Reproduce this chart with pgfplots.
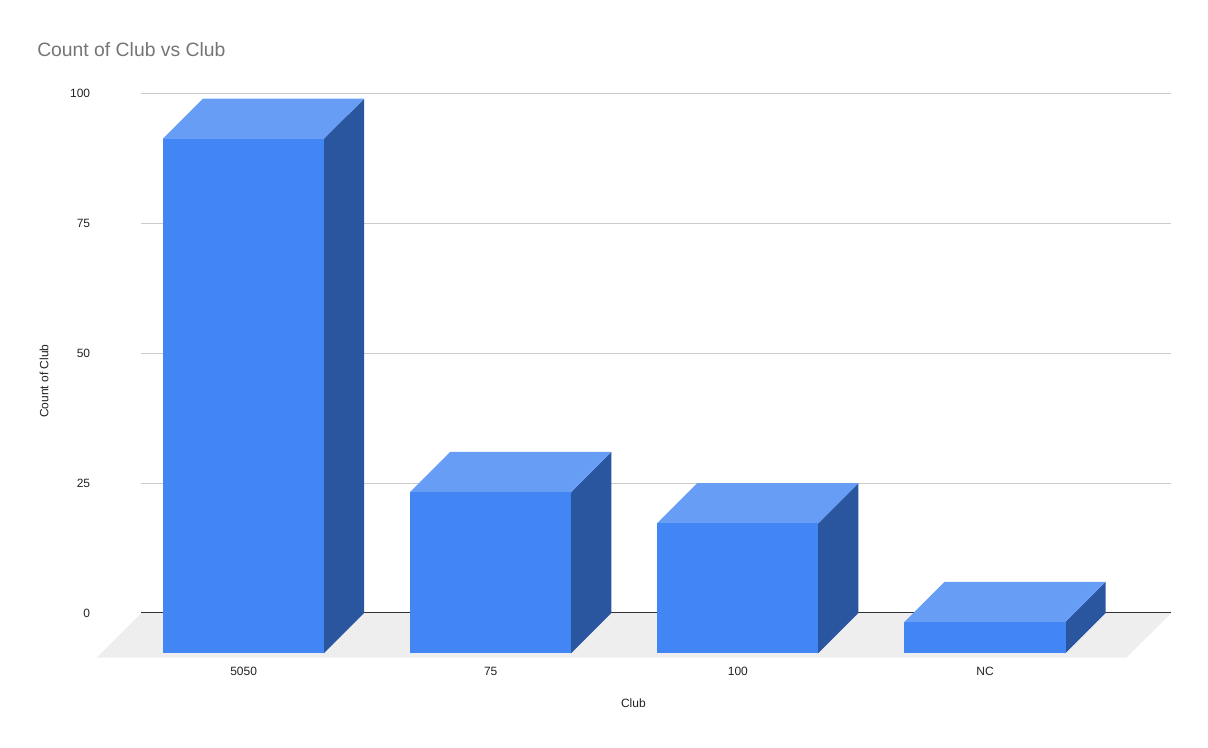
\documentclass[border=0pt]{standalone}
\usepackage{pgfplots}
\usepackage{fontspec}
\setmainfont{Liberation Sans}
\pgfplotsset{compat=1.18}
\definecolor{front}{HTML}{4285F4}
\definecolor{topf}{HTML}{689DF6}
\definecolor{sidef}{HTML}{2A56A0}
\definecolor{floorc}{HTML}{EEEEEE}
\definecolor{gridc}{HTML}{CCCCCC}
\definecolor{zeroc}{HTML}{333333}
\definecolor{titlec}{HTML}{757575}
\definecolor{textc}{HTML}{222222}
\begin{document}
\begin{tikzpicture}
\useasboundingbox (-72.525pt,-67.275pt) rectangle (833.025pt,492.975pt);
\begin{axis}[
  scale only axis, width=805.5pt, height=423pt,
  xmin=-0.5943, xmax=3.7538, ymin=-8.59, ymax=100,
  clip=false, axis line style={draw=none},
  /pgf/number format/assume math mode=true,
  tick style={draw=none},
  font=\fontsize{9}{11}\selectfont,
  every tick label/.append style={text=textc},
  xtick={0,1,2,3}, xticklabels={5050,75,100,NC},
  ytick={0,25,50,75,100},
  yticklabel style={xshift=-1.4pt,yshift=0pt},
  xticklabel style={yshift=-3.5pt},
  title={Count of Club vs Club},
  title style={at={(rel axis cs:-0.0556,1.0517)},anchor=base west,text=titlec,font=\fontsize{14.5}{17}\selectfont,inner sep=0pt},
  xlabel={Club},
  xlabel style={at={(rel axis cs:0.4994,-0.081)},anchor=center,text=textc,inner sep=0pt},
  ylabel={Count of Club},
  ylabel style={at={(rel axis cs:-0.0491,0.49)},anchor=center,rotate=0,text=textc,inner sep=0pt},
]
% gridlines
\addplot[gridc,line width=0.75pt] coordinates {(-0.4138,25) (3.7538,25)};
\addplot[gridc,line width=0.75pt] coordinates {(-0.4138,50) (3.7538,50)};
\addplot[gridc,line width=0.75pt] coordinates {(-0.4138,75) (3.7538,75)};
\addplot[gridc,line width=0.75pt] coordinates {(-0.4138,100) (3.7538,100)};
% floor
\addplot[fill=floorc,draw=none] coordinates {(-0.4138,0) (3.7538,0) (3.5729,-8.59) (-0.5943,-8.59)} --cycle;
\addplot[zeroc,line width=0.75pt] coordinates {(-0.4138,0) (3.7538,0)};
% 5050 : 99
\addplot[fill=sidef,draw=none] coordinates {(0.322,-7.7) (0.326,-7.7) (0.488,0) (0.488,99) (0.326,91.3) (0.322,91.3)} --cycle;
\addplot[fill=topf,draw=none] coordinates {(-0.326,91.1) (0.326,91.1) (0.326,91.3) (0.488,99) (-0.164,99) (-0.326,91.3)} --cycle;
\addplot[fill=front,draw=none] coordinates {(-0.326,-7.7) (0.326,-7.7) (0.326,91.3) (-0.326,91.3)} --cycle;
% 75 : 31
\addplot[fill=sidef,draw=none] coordinates {(1.322,-7.7) (1.326,-7.7) (1.488,0) (1.488,31) (1.326,23.3) (1.322,23.3)} --cycle;
\addplot[fill=topf,draw=none] coordinates {(0.674,23.1) (1.326,23.1) (1.326,23.3) (1.488,31) (0.836,31) (0.674,23.3)} --cycle;
\addplot[fill=front,draw=none] coordinates {(0.674,-7.7) (1.326,-7.7) (1.326,23.3) (0.674,23.3)} --cycle;
% 100 : 25
\addplot[fill=sidef,draw=none] coordinates {(2.322,-7.7) (2.326,-7.7) (2.488,0) (2.488,25) (2.326,17.3) (2.322,17.3)} --cycle;
\addplot[fill=topf,draw=none] coordinates {(1.674,17.1) (2.326,17.1) (2.326,17.3) (2.488,25) (1.836,25) (1.674,17.3)} --cycle;
\addplot[fill=front,draw=none] coordinates {(1.674,-7.7) (2.326,-7.7) (2.326,17.3) (1.674,17.3)} --cycle;
% NC : 6
\addplot[fill=sidef,draw=none] coordinates {(3.322,-7.7) (3.326,-7.7) (3.488,0) (3.488,6) (3.326,-1.7) (3.322,-1.7)} --cycle;
\addplot[fill=topf,draw=none] coordinates {(2.674,-1.9) (3.326,-1.9) (3.326,-1.7) (3.488,6) (2.836,6) (2.674,-1.7)} --cycle;
\addplot[fill=front,draw=none] coordinates {(2.674,-7.7) (3.326,-7.7) (3.326,-1.7) (2.674,-1.7)} --cycle;
\end{axis}
\end{tikzpicture}
\end{document}
